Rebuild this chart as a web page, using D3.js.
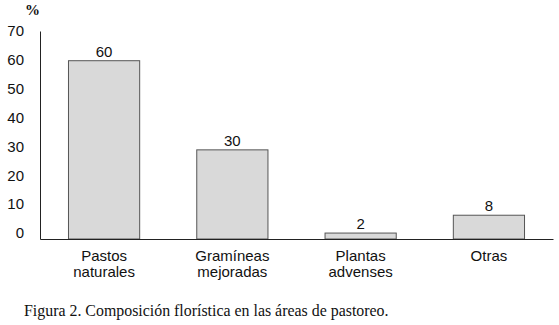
<!DOCTYPE html>
<meta charset="utf-8">
<style>
body { margin: 0; background: #fff; }
text { font-family: "Liberation Sans", Arial, sans-serif; fill: #111; }
.serif { font-family: "Liberation Serif", "Times New Roman", serif; }
</style>
<body>
<script src="https://d3js.org/d3.v7.min.js"></script>
<script>

const categories = [["Pastos", "naturales"], ["Gramíneas", "mejoradas"], ["Plantas", "advenses"], ["Otras"]];
const values = [60, 30, 2, 8];
const yTicks = [0, 10, 20, 30, 40, 50, 60, 70];

let width = 559,
    height = 325,
    margin = {top: 31, right: 6, bottom: 86, left: 40};

let svg = d3.select("body").append("svg")
            .attr("width", width)
            .attr("height", height);

let x = d3.scaleBand()
            .domain(d3.range(values.length))
            .range([margin.left, width - margin.right])
            .paddingInner(0.445)
            .paddingOuter(0.222),
    y = d3.scaleLinear()
            .domain([0, 70])
            .range([height - margin.bottom, margin.top]);

// y axis, labels only
let yAxis = svg.append("g")
    .attr("transform", `translate(${margin.left},0)`)
    .call(d3.axisLeft(y).tickValues(yTicks).tickSize(0).tickPadding(16));
yAxis.select(".domain").attr("stroke", "#222");
yAxis.selectAll("text")
    .style("font-size", "15px")
    .attr("dy", "0.32em")
    .attr("transform", d => `translate(0,${-6 + d * 0.085})`);

// bars
svg.append("g")
  .selectAll("rect")
  .data(values)
  .join("rect")
    .attr("x", (d, i) => x(i))
    .attr("y", d => y(d))
    .attr("width", x.bandwidth())
    .attr("height", d => y(0) - y(d))
    .attr("fill", "#d9d9d9")
    .attr("stroke", "#555")
    .attr("stroke-width", 1);

// x axis line
svg.append("g")
    .attr("transform", `translate(0,${y(0)})`)
    .call(d3.axisBottom(x).tickSize(0).tickFormat(""))
    .call(g => g.select(".domain").attr("stroke", "#222"));

// value labels
svg.append("g")
  .selectAll("text")
  .data(values)
  .join("text")
    .attr("x", (d, i) => x(i) + x.bandwidth() / 2)
    .attr("y", d => y(d) - 4)
    .attr("text-anchor", "middle")
    .style("font-size", "15px")
    .text(d => d);

// category labels, one text per line
svg.append("g")
  .selectAll("g")
  .data(categories)
  .join("g")
  .selectAll("text")
  .data((d, i) => d.map((s, j) => ({s, i, j})))
  .join("text")
    .attr("x", d => x(d.i) + x.bandwidth() / 2)
    .attr("y", d => y(0) + 22 + d.j * 16)
    .attr("text-anchor", "middle")
    .style("font-size", "15px")
    .text(d => d.s);

// unit
svg.append("text")
    .attr("class", "serif")
    .attr("x", 25)
    .attr("y", 15)
    .style("font-size", "15px")
    .style("font-weight", "bold")
    .text("%");

// caption
svg.append("text")
    .attr("class", "serif")
    .attr("x", 24)
    .attr("y", 316)
    .style("font-size", "15.9px")
    .text("Figura 2. Composición florística en las áreas de pastoreo.");

</script>
